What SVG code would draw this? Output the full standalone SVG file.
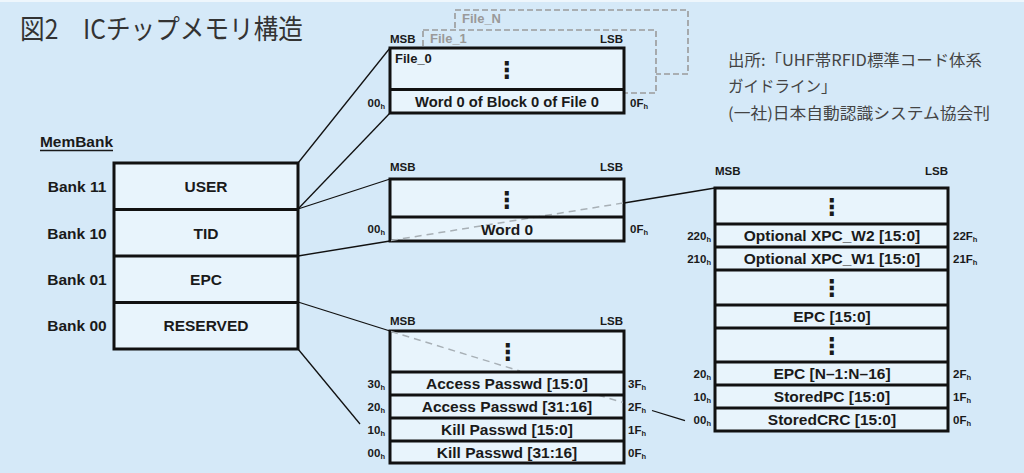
<svg xmlns="http://www.w3.org/2000/svg" width="1024" height="473" viewBox="0 0 1024 473">
<style>
.t{font-family:"Liberation Sans",Arial,sans-serif;font-weight:bold;fill:#1a1a1a}
.row{font-size:15.5px;text-anchor:middle}
.sm{font-size:11.5px}
.r{text-anchor:end}
.sub{font-size:7.5px}
.box{fill:#e8f4fc;stroke:#111;stroke-width:3}
.div{stroke:#111;stroke-width:3}
.conn{stroke:#111;stroke-width:1.3;fill:none}
.ghost{stroke:#a8b0b6;stroke-width:1.5;stroke-dasharray:7 5;fill:none}
.file{fill:#d5e9f8;stroke:#9a9a9a;stroke-width:1.6;stroke-dasharray:6 3}
.ft{font-family:"Liberation Sans",Arial,sans-serif;font-weight:bold;font-size:13px;fill:#999}
.dots{font-family:"DejaVu Sans",sans-serif;font-weight:bold;font-size:23px;text-anchor:middle;fill:#1a1a1a}
.jp{font-family:"Noto Sans CJK JP",sans-serif}
</style>
<rect x="0" y="0" width="1024" height="473" fill="#d5e9f8"/>
<rect x="0" y="0" width="1024" height="2" fill="#eef6fc"/>

<g id="title">
<text class="jp" x="20" y="39" font-size="27" fill="#333" textLength="283" lengthAdjust="spacingAndGlyphs">図2　ICチップメモリ構造</text>
</g>
<g id="source" class="jp" font-size="15.5" fill="#444">
<text x="728" y="66" textLength="254" lengthAdjust="spacingAndGlyphs">出所:「UHF帯RFID標準コード体系</text>
<text x="728" y="92">ガイドライン」</text>
<text x="728" y="119" textLength="262" lengthAdjust="spacingAndGlyphs">(一社)日本自動認識システム協会刊</text>
</g>

<g id="connectors">
<line class="conn" x1="298" y1="163" x2="390" y2="48"/>
<line class="conn" x1="298" y1="209" x2="390" y2="113"/>
<line class="conn" x1="298" y1="209" x2="390" y2="179"/>
<line class="conn" x1="298" y1="256" x2="390" y2="241"/>
<line class="conn" x1="624" y1="203" x2="715" y2="188"/>
<line class="conn" x1="298" y1="302" x2="390" y2="331"/>
<line class="conn" x1="652" y1="410.5" x2="685" y2="420.7"/>
<line class="conn" x1="298" y1="349" x2="360" y2="424"/>
</g>

<g id="membank">
<text class="t" x="40" y="147" font-size="15" textLength="73" lengthAdjust="spacingAndGlyphs">MemBank</text>
<line x1="40" y1="150.5" x2="113" y2="150.5" stroke="#1a1a1a" stroke-width="1.3"/>
<rect class="box" x="114" y="163" width="184" height="186"/>
<line class="div" x1="114" y1="209.5" x2="298" y2="209.5"/>
<line class="div" x1="114" y1="256" x2="298" y2="256"/>
<line class="div" x1="114" y1="302.5" x2="298" y2="302.5"/>
<text class="t row" x="206" y="192">USER</text>
<text class="t row" x="206" y="238.5">TID</text>
<text class="t row" x="206" y="285">EPC</text>
<text class="t row" x="206" y="331">RESERVED</text>
<text class="t row" x="77" y="192">Bank 11</text>
<text class="t row" x="77" y="238.5">Bank 10</text>
<text class="t row" x="77" y="285">Bank 01</text>
<text class="t row" x="77" y="331">Bank 00</text>
</g>

<g id="user-files">
<rect class="file" x="455" y="10" width="233" height="64"/>
<text class="ft" x="462" y="23">File_N</text>
<rect class="file" x="423" y="30" width="233" height="63"/>
<text class="ft" x="430" y="43">File_1</text>
<rect class="box" x="390" y="48" width="234" height="65"/>
<line class="div" x1="390" y1="89.5" x2="624" y2="89.5"/>
<text class="t" x="395" y="63" font-size="13">File_0</text>
<text class="dots" x="507" y="78">⋮</text>
<text class="t row" x="507" y="107" textLength="184" lengthAdjust="spacingAndGlyphs">Word 0 of Block 0 of File 0</text>
<text class="t sm" x="390" y="43">MSB</text>
<text class="t sm r" x="623" y="43">LSB</text>
<text class="t sm r" x="385" y="107">00<tspan class="sub" dy="1.5">h</tspan></text>
<text class="t sm" x="630" y="107">0F<tspan class="sub" dy="1.5">h</tspan></text>
</g>

<g id="tid">
<rect class="box" x="390" y="179" width="234" height="62"/>
<line class="ghost" x1="391" y1="240.5" x2="623" y2="203"/>
<line class="div" x1="390" y1="217" x2="624" y2="217"/>
<text class="dots" x="507" y="208">⋮</text>
<text class="t row" x="507" y="235">Word 0</text>
<text class="t sm" x="390" y="171">MSB</text>
<text class="t sm r" x="623" y="171">LSB</text>
<text class="t sm r" x="385" y="233">00<tspan class="sub" dy="1.5">h</tspan></text>
<text class="t sm" x="630" y="233">0F<tspan class="sub" dy="1.5">h</tspan></text>
</g>

<g id="reserved">
<rect class="box" x="390" y="331" width="234" height="132"/>
<line class="ghost" x1="391" y1="331.5" x2="520" y2="371"/>
<line class="ghost" x1="598" y1="395" x2="623" y2="402.5"/>
<line class="div" x1="390" y1="372" x2="624" y2="372"/>
<line class="div" x1="390" y1="395" x2="624" y2="395"/>
<line class="div" x1="390" y1="418" x2="624" y2="418"/>
<line class="div" x1="390" y1="441" x2="624" y2="441"/>
<text class="dots" x="508" y="360">⋮</text>
<text class="t row" x="507" y="389">Access Passwd [15:0]</text>
<text class="t row" x="507" y="412">Access Passwd [31:16]</text>
<text class="t row" x="507" y="435">Kill Passwd [15:0]</text>
<text class="t row" x="507" y="457.5">Kill Passwd [31:16]</text>
<text class="t sm" x="390" y="325">MSB</text>
<text class="t sm r" x="623" y="325">LSB</text>
<text class="t sm r" x="385" y="388">30<tspan class="sub" dy="1.5">h</tspan></text>
<text class="t sm r" x="385" y="411">20<tspan class="sub" dy="1.5">h</tspan></text>
<text class="t sm r" x="385" y="434">10<tspan class="sub" dy="1.5">h</tspan></text>
<text class="t sm r" x="385" y="457">00<tspan class="sub" dy="1.5">h</tspan></text>
<text class="t sm" x="628" y="388">3F<tspan class="sub" dy="1.5">h</tspan></text>
<text class="t sm" x="628" y="411">2F<tspan class="sub" dy="1.5">h</tspan></text>
<text class="t sm" x="628" y="434">1F<tspan class="sub" dy="1.5">h</tspan></text>
<text class="t sm" x="628" y="457">0F<tspan class="sub" dy="1.5">h</tspan></text>
</g>

<g id="epc">
<rect class="box" x="715" y="188" width="233" height="243"/>
<line class="div" x1="715" y1="224" x2="948" y2="224"/>
<line class="div" x1="715" y1="247" x2="948" y2="247"/>
<line class="div" x1="715" y1="270" x2="948" y2="270"/>
<line class="div" x1="715" y1="305" x2="948" y2="305"/>
<line class="div" x1="715" y1="328" x2="948" y2="328"/>
<line class="div" x1="715" y1="362" x2="948" y2="362"/>
<line class="div" x1="715" y1="385" x2="948" y2="385"/>
<line class="div" x1="715" y1="408" x2="948" y2="408"/>
<text class="dots" x="832" y="215">⋮</text>
<text class="t row" x="832" y="241">Optional XPC_W2 [15:0]</text>
<text class="t row" x="832" y="264">Optional XPC_W1 [15:0]</text>
<text class="dots" x="832" y="296">⋮</text>
<text class="t row" x="832" y="322">EPC [15:0]</text>
<text class="dots" x="832" y="354">⋮</text>
<text class="t row" x="832" y="379">EPC [N–1:N–16]</text>
<text class="t row" x="832" y="402">StoredPC [15:0]</text>
<text class="t row" x="832" y="425">StoredCRC [15:0]</text>
<text class="t sm" x="715" y="175">MSB</text>
<text class="t sm r" x="948" y="175">LSB</text>
<text class="t sm r" x="711" y="240">220<tspan class="sub" dy="1.5">h</tspan></text>
<text class="t sm r" x="711" y="263">210<tspan class="sub" dy="1.5">h</tspan></text>
<text class="t sm r" x="711" y="378">20<tspan class="sub" dy="1.5">h</tspan></text>
<text class="t sm r" x="711" y="401">10<tspan class="sub" dy="1.5">h</tspan></text>
<text class="t sm r" x="711" y="424">00<tspan class="sub" dy="1.5">h</tspan></text>
<text class="t sm" x="953" y="240">22F<tspan class="sub" dy="1.5">h</tspan></text>
<text class="t sm" x="953" y="263">21F<tspan class="sub" dy="1.5">h</tspan></text>
<text class="t sm" x="953" y="378">2F<tspan class="sub" dy="1.5">h</tspan></text>
<text class="t sm" x="953" y="401">1F<tspan class="sub" dy="1.5">h</tspan></text>
<text class="t sm" x="953" y="424">0F<tspan class="sub" dy="1.5">h</tspan></text>
</g>
</svg>
